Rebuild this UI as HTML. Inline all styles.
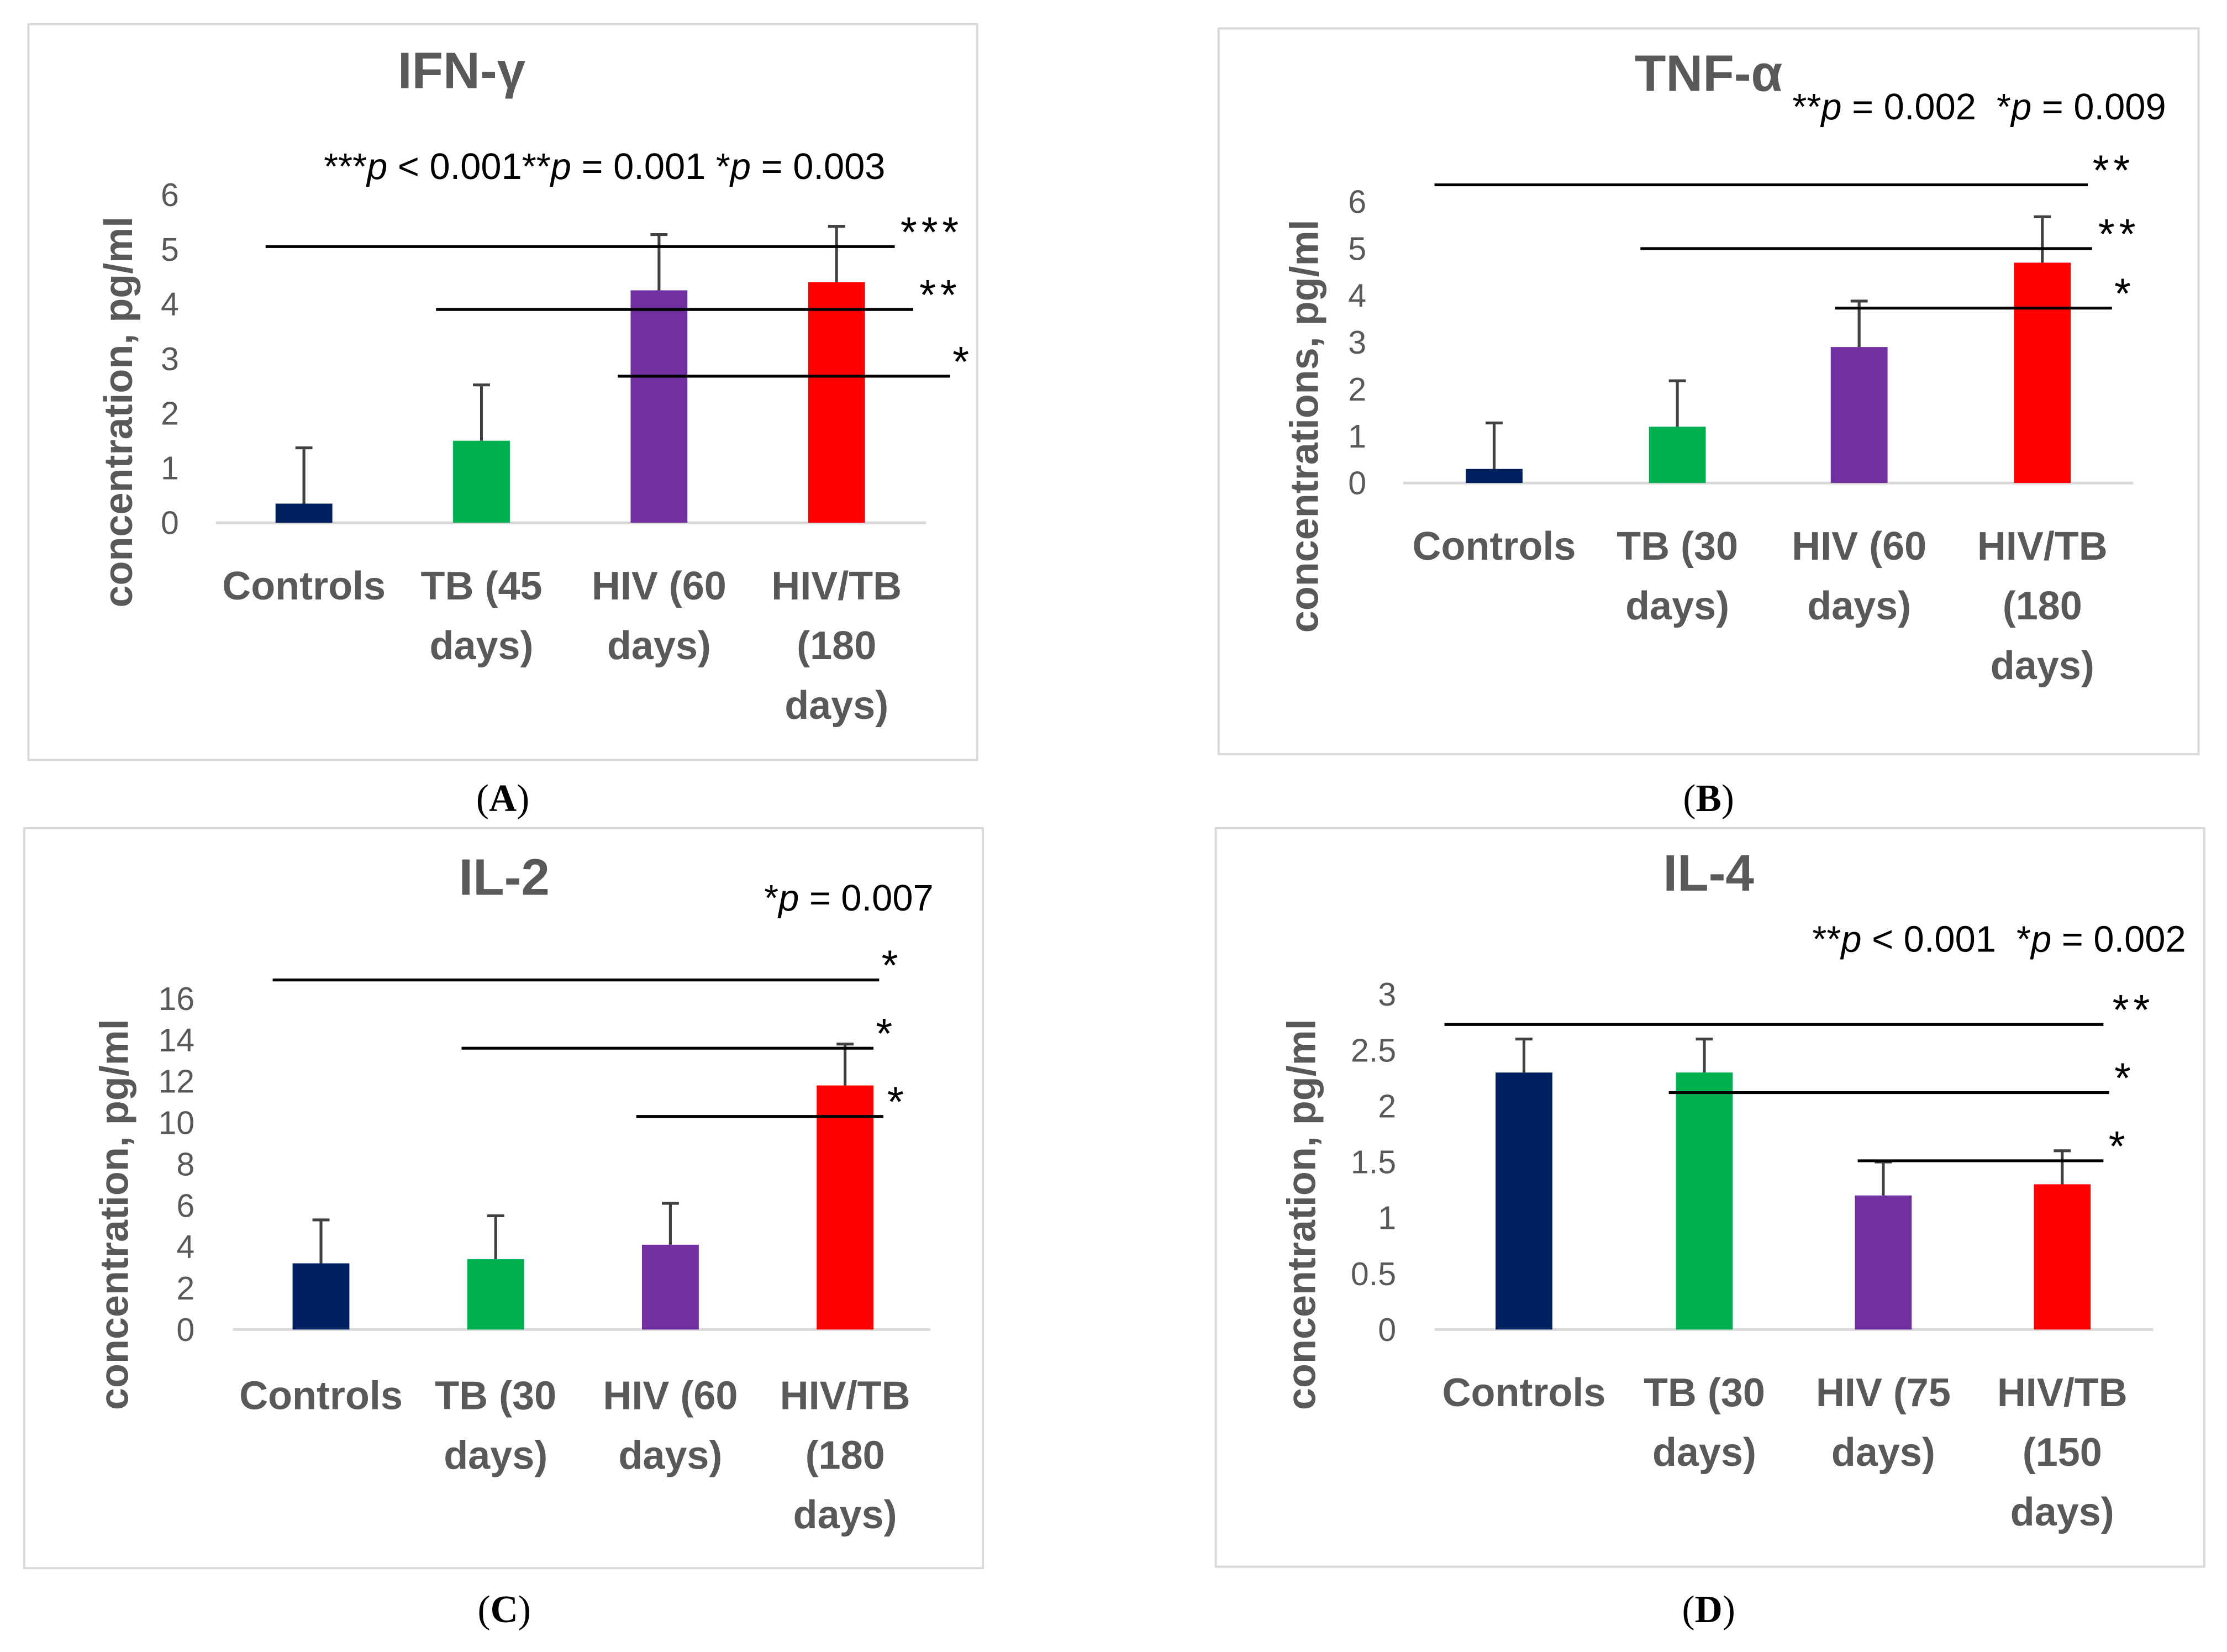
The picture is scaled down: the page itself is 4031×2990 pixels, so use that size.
<!DOCTYPE html>
<html><head><meta charset="utf-8">
<style>
html,body{margin:0;padding:0;background:#fff;}
svg{display:block;}
text{font-family:"Liberation Sans",sans-serif;}
</style></head>
<body>
<svg id="fig" xmlns="http://www.w3.org/2000/svg" width="4031" height="2990" viewBox="0 0 1568 1163"></svg>
<script>
// Panel A: IFN-gamma
const ifnCategories = [["Controls"],["TB (45","days)"],["HIV (60","days)"],["HIV/TB","(180","days)"]];
const ifnValues = [0.35, 1.5, 4.25, 4.4];
const ifnErrors = [1.02, 1.02, 1.02, 1.02];
const ifnTicks = [0,1,2,3,4,5,6];
const ifnSigLevels = [5.05, 3.9, 2.68];
const ifnSigStars = ["***","**","*"];
// Panel B: TNF-alpha
const tnfCategories = [["Controls"],["TB (30","days)"],["HIV (60","days)"],["HIV/TB","(180","days)"]];
const tnfValues = [0.3, 1.2, 2.9, 4.7];
const tnfErrors = [0.98, 0.98, 0.98, 0.98];
const tnfTicks = [0,1,2,3,4,5,6];
const tnfSigLevels = [6.36, 5.0, 3.73];
const tnfSigStars = ["**","**","*"];
// Panel C: IL-2
const il2Categories = [["Controls"],["TB (30","days)"],["HIV (60","days)"],["HIV/TB","(180","days)"]];
const il2Values = [3.2, 3.4, 4.1, 11.8];
const il2Errors = [2.1, 2.1, 2.0, 2.0];
const il2Ticks = [0,2,4,6,8,10,12,14,16];
const il2SigLevels = [16.9, 13.6, 10.3];
const il2SigStars = ["*","*","*"];
// Panel D: IL-4
const il4Categories = [["Controls"],["TB (30","days)"],["HIV (75","days)"],["HIV/TB","(150","days)"]];
const il4Values = [2.3, 2.3, 1.2, 1.3];
const il4Errors = [0.3, 0.3, 0.3, 0.3];
const il4Ticks = ["0","0.5","1","1.5","2","2.5","3"];
const il4SigLevels = [2.73, 2.12, 1.51];
const il4SigStars = ["**","*","*"];

const colors = ["#002060","#00b050","#7030a0","#ff0000"];
const NS = "http://www.w3.org/2000/svg";
const svg = document.getElementById("fig");
function mk(tag, attrs, parent, txt){
  const e = document.createElementNS(NS, tag);
  for (const k in attrs) e.setAttribute(k, attrs[k]);
  if (txt !== undefined) e.textContent = txt;
  (parent||svg).appendChild(e);
  return e;
}

function panel(cfg){
  const g = mk("g", {});
  
  
  const box = mk("rect", {x:cfg.box[0], y:cfg.box[1], width:cfg.box[2]-cfg.box[0], height:cfg.box[3]-cfg.box[1], fill:"none", stroke:"#d9d9d9", "stroke-width":1.5}, g);
  
  
  const yMax = Number(cfg.ticks[cfg.ticks.length-1]);
  const y = v => cfg.y0 - (v / yMax) * (cfg.y0 - cfg.yTop);
  const x = i => cfg.cats[i];
  const t = mk("text", {x:cfg.titleX, y:cfg.titleY, "text-anchor":"middle", "font-size":36, "font-weight":"bold", fill:"#595959"}, g, cfg.title);
  
  
  const p = mk("text", {x:cfg.pX, y:cfg.pY, "font-size":26, fill:"#000"}, g);
  
  
  cfg.pParts.forEach(pp => { mk("tspan", pp[1] ? {"font-style":"italic"} : {}, p, pp[0]); });
  cfg.ticks.forEach(tk => {
    const l = mk("text", {x:cfg.tickX, y:y(Number(tk))+8, "text-anchor":"end", "font-size":23, fill:"#595959"}, g, String(tk));
    
    
  });
  const ax = mk("line", {x1:cfg.axis[0], x2:cfg.axis[1], y1:cfg.y0, y2:cfg.y0, stroke:"#d9d9d9", "stroke-width":2}, g);
  
  
  const yt = mk("text", {x:0, y:0, "text-anchor":"middle", "font-size":28, "font-weight":"bold", fill:"#595959", transform:`translate(${cfg.yTitleX},${cfg.yTitleY}) rotate(-90)`}, g, cfg.yTitle);
  
  
  cfg.values.forEach((v,i) => {
    const top = y(v + cfg.errors[i]);
    const eb = mk("path", {d:`M${x(i)},${y(v)} V${top} M${x(i)-6},${top} H${x(i)+6}`, stroke:"#404040", "stroke-width":2, fill:"none"}, g);
    
    
    const b = mk("rect", {x:x(i)-20, y:y(v), width:40, height:cfg.y0 - y(v), fill:colors[i]}, g);
    
    
    cfg.labels[i].forEach((s,j) => {
      const c = mk("text", {x:x(i), y:cfg.labelY + j*42, "text-anchor":"middle", "font-size":28, "font-weight":"bold", fill:"#595959"}, g, s);
      
      
    });
  });
  cfg.sig.forEach((lv,k) => {
    const sx = cfg.sigX[k];
    const ly = y(lv);
    const l = mk("line", {x1:sx[0], x2:sx[1], y1:ly, y2:ly, stroke:"#000", "stroke-width":2}, g);
    
    
    const s = mk("text", {x:sx[2], y:ly, "text-anchor":"middle", "font-size":30, "letter-spacing":3, fill:"#000"}, g, cfg.stars[k]);
    
    
  });
  const cap = mk("text", {x:cfg.capX, y:cfg.capY, "text-anchor":"middle", "font-size":27, style:"font-family:'Liberation Serif',serif", fill:"#000"}, g);
  
  
  mk("tspan", {}, cap, "(");
  mk("tspan", {"font-weight":"bold"}, cap, cfg.letter);
  mk("tspan", {}, cap, ")");
}

panel({name:"panel-a-ifn-gamma", box:[20,17,688,535], title:"IFN-γ", titleX:325, titleY:62,
  pX:228, pY:126, pParts:[["***",0],["p",1],[" < 0.001**",0],["p",1],[" = 0.001 *",0],["p",1],[" = 0.003",0]],
  ticks:ifnTicks, y0:368, yTop:137, tickX:126, axis:[152,652], cats:[214,339,464,589],
  values:ifnValues, errors:ifnErrors, labels:ifnCategories, labelY:422,
  yTitle:"concentration, pg/ml", yTitleX:93, yTitleY:290,
  sig:ifnSigLevels, stars:ifnSigStars, sigX:[[187,630,656],[307,643,662],[435,669,678]],
  capX:354, capY:571, letter:"A"});
panel({name:"panel-b-tnf-alpha", box:[858,20,1548,531], title:"TNF-α", titleX:1203, titleY:64,
  pX:1262, pY:84, pParts:[["**",0],["p",1],[" = 0.002\u00a0\u00a0*",0],["p",1],[" = 0.009",0]],
  ticks:tnfTicks, y0:340, yTop:142, tickX:962, axis:[988,1502], cats:[1052,1181,1309,1438],
  values:tnfValues, errors:tnfErrors, labels:tnfCategories, labelY:394,
  yTitle:"concentrations, pg/ml", yTitleX:928, yTitleY:300,
  sig:tnfSigLevels, stars:tnfSigStars, sigX:[[1010,1470,1488],[1155,1473,1492],[1292,1487,1496]],
  capX:1203, capY:571, letter:"B"});
panel({name:"panel-c-il-2", box:[17,583,692,1104], title:"IL-2", titleX:355, titleY:630,
  pX:538, pY:641, pParts:[["*",0],["p",1],[" = 0.007",0]],
  ticks:il2Ticks, y0:936, yTop:703, tickX:137, axis:[164,655], cats:[226,349,472,595],
  values:il2Values, errors:il2Errors, labels:il2Categories, labelY:992,
  yTitle:"concentration, pg/ml", yTitleX:90, yTitleY:855,
  sig:il2SigLevels, stars:il2SigStars, sigX:[[192,619,628],[325,615,624],[448,622,632]],
  capX:355, capY:1142, letter:"C"});
panel({name:"panel-d-il-4", box:[856,583,1552,1103], title:"IL-4", titleX:1203, titleY:627,
  pX:1276, pY:670, pParts:[["**",0],["p",1],[" < 0.001\u00a0\u00a0*",0],["p",1],[" = 0.002",0]],
  ticks:il4Ticks, y0:936, yTop:700, tickX:983, axis:[1010,1516], cats:[1073,1200,1326,1452],
  values:il4Values, errors:il4Errors, labels:il4Categories, labelY:990,
  yTitle:"concentration, pg/ml", yTitleX:926, yTitleY:855,
  sig:il4SigLevels, stars:il4SigStars, sigX:[[1017,1481,1502],[1175,1485,1496],[1308,1481,1492]],
  capX:1203, capY:1142, letter:"D"});
</script>
</body></html>
